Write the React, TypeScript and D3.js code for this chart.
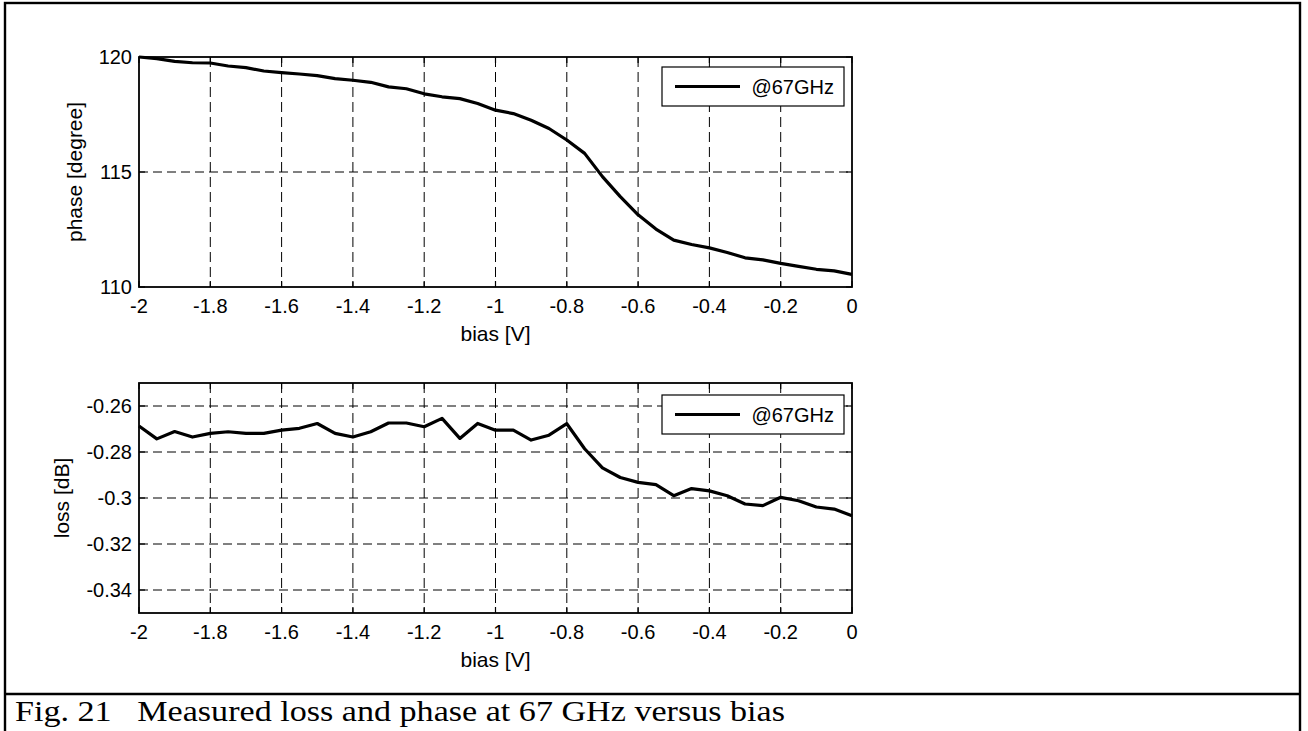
import React from "react";
import * as d3 from "d3";

// Bias sweep points [V]
const biasV = [
  -2.0, -1.95, -1.9, -1.85, -1.8, -1.75, -1.7, -1.65, -1.6, -1.55, -1.5,
  -1.45, -1.4, -1.35, -1.3, -1.25, -1.2, -1.15, -1.1, -1.05, -1.0,
  -0.95, -0.9, -0.85, -0.8, -0.75, -0.7, -0.65, -0.6, -0.55, -0.5,
  -0.45, -0.4, -0.35, -0.3, -0.25, -0.2, -0.15, -0.1, -0.05, 0.0,
];

// Measured transmission phase at 67 GHz [degree]
const phaseDeg = [
  120.0, 119.93, 119.81, 119.75, 119.74, 119.61, 119.54, 119.39, 119.32, 119.26, 119.19,
  119.06, 118.99, 118.9, 118.7, 118.62, 118.4, 118.27, 118.19, 117.98, 117.69,
  117.54, 117.25, 116.89, 116.39, 115.81, 114.8, 113.93, 113.14, 112.52, 112.04,
  111.85, 111.7, 111.5, 111.27, 111.18, 111.03, 110.9, 110.77, 110.7, 110.55,
];

// Measured insertion loss at 67 GHz [dB]
const lossDb = [
  -0.2687, -0.2743, -0.2711, -0.2735, -0.2719, -0.2712, -0.2719, -0.2719, -0.2705, -0.2697, -0.2676,
  -0.2719, -0.2735, -0.2712, -0.2674, -0.2674, -0.269, -0.2654, -0.2741, -0.2676, -0.2705,
  -0.2705, -0.2748, -0.2727, -0.2677, -0.2786, -0.2869, -0.2911, -0.2932, -0.2942, -0.299,
  -0.2959, -0.2969, -0.299, -0.3026, -0.3033, -0.2997, -0.3012, -0.3039, -0.3048, -0.3077,
];

const xTicks = [-2, -1.8, -1.6, -1.4, -1.2, -1, -0.8, -0.6, -0.4, -0.2, 0];
const phaseTicks = [110, 115, 120];
const lossTicks = [-0.34, -0.32, -0.3, -0.28, -0.26];

const legendLabel = "@67GHz";
const xLabel = "bias [V]";
const caption = "Fig. 21   Measured loss and phase at 67 GHz versus bias";

const W = 1308;
const H = 731;
const SANS = "'Liberation Sans', Arial, Helvetica, sans-serif";
const SERIF = "'Liberation Serif', 'Times New Roman', serif";
const FS = 20;
const LABEL_FS = 21;

type PanelProps = {
  top: number;
  bottom: number;
  yDomain: [number, number];
  yTicks: number[];
  values: number[];
  yLabel: string;
  yLabelX: number;
  legendTop: number;
};

const LEFT = 139;
const RIGHT = 852;

function fmt(v: number) {
  return String(+v.toFixed(4));
}

function Panel({ top, bottom, yDomain, yTicks, values, yLabel, yLabelX, legendTop }: PanelProps) {
  const x = d3.scaleLinear().domain([-2, 0]).range([LEFT, RIGHT]);
  const y = d3.scaleLinear().domain(yDomain).range([bottom, top]);
  const line = d3
    .line<number>()
    .x((_, i) => x(biasV[i]))
    .y((d) => y(d));
  const tick = 6;
  const legendLeft = 662;
  const legendRight = 844;
  const legendH = 39;
  const midY = (top + bottom) / 2;
  return (
    <g>
      {/* dashed grid */}
      {xTicks.slice(1, -1).map((t) => (
        <line
          key={"gx" + t}
          x1={x(t)}
          x2={x(t)}
          y1={top}
          y2={bottom}
          stroke="#000"
          strokeWidth={1}
          strokeDasharray="10,5"
        />
      ))}
      {yTicks
        .filter((t) => y(t) > top + 1 && y(t) < bottom - 1)
        .map((t) => (
          <line
            key={"gy" + t}
            x1={LEFT}
            x2={RIGHT}
            y1={y(t)}
            y2={y(t)}
            stroke="#000"
            strokeWidth={1}
            strokeDasharray="9,5"
          />
        ))}
      {/* inward ticks on all sides */}
      {xTicks.map((t) => (
        <g key={"tx" + t}>
          <line x1={x(t)} x2={x(t)} y1={bottom} y2={bottom - tick} stroke="#000" strokeWidth={1.2} />
          <line x1={x(t)} x2={x(t)} y1={top} y2={top + tick} stroke="#000" strokeWidth={1.2} />
        </g>
      ))}
      {yTicks.map((t) => (
        <g key={"ty" + t}>
          <line x1={LEFT} x2={LEFT + tick} y1={y(t)} y2={y(t)} stroke="#000" strokeWidth={1.2} />
          <line x1={RIGHT} x2={RIGHT - tick} y1={y(t)} y2={y(t)} stroke="#000" strokeWidth={1.2} />
        </g>
      ))}
      {/* data */}
      <path
        d={line(values) || ""}
        fill="none"
        stroke="#000"
        strokeWidth={3.2}
        strokeLinejoin="round"
      />
      {/* axes box */}
      <rect x={LEFT} y={top} width={RIGHT - LEFT} height={bottom - top} fill="none" stroke="#000" strokeWidth={1.8} />
      {/* tick labels */}
      {xTicks.map((t) => (
        <text
          key={"lx" + t}
          x={x(t)}
          y={bottom + 26}
          textAnchor="middle"
          fontFamily={SANS}
          fontSize={FS}
        >
          {fmt(t)}
        </text>
      ))}
      {yTicks.map((t) => (
        <text
          key={"ly" + t}
          x={LEFT - 7}
          y={y(t)}
          dy="0.35em"
          textAnchor="end"
          fontFamily={SANS}
          fontSize={FS}
        >
          {fmt(t)}
        </text>
      ))}
      <text x={(LEFT + RIGHT) / 2} y={bottom + 54} textAnchor="middle" fontFamily={SANS} fontSize={LABEL_FS}>
        {xLabel}
      </text>
      <text
        transform={`translate(${yLabelX},${midY}) rotate(-90)`}
        textAnchor="middle"
        fontFamily={SANS}
        fontSize={LABEL_FS}
      >
        {yLabel}
      </text>
      {/* legend */}
      <rect
        x={legendLeft}
        y={legendTop}
        width={legendRight - legendLeft}
        height={legendH}
        fill="#fff"
        stroke="#000"
        strokeWidth={1.2}
      />
      <line
        x1={legendLeft + 13}
        x2={legendLeft + 78}
        y1={legendTop + legendH / 2}
        y2={legendTop + legendH / 2}
        stroke="#000"
        strokeWidth={3.2}
      />
      <text
        x={legendRight - 10}
        y={legendTop + legendH / 2}
        dy="0.36em"
        textAnchor="end"
        fontFamily={SANS}
        fontSize={FS}
      >
        {legendLabel}
      </text>
    </g>
  );
}

export default function App() {
  return (
    <div style={{ position: "absolute", left: 0, top: 0 }}>
      <svg width={W} height={H} viewBox={`0 0 ${W} ${H}`} style={{ display: "block", background: "#fff" }}>
        <rect x={0} y={0} width={W} height={H} fill="#fff" />
        {/* figure frame */}
        <rect x={5} y={3} width={1295} height={H + 10} fill="none" stroke="#000" strokeWidth={2.4} />
        <line x1={5} x2={1300} y1={694} y2={694} stroke="#000" strokeWidth={2.4} />
        <Panel
          top={57}
          bottom={287}
          yDomain={[110, 120]}
          yTicks={phaseTicks}
          values={phaseDeg}
          yLabel="phase [degree]"
          yLabelX={82}
          legendTop={67}
        />
        <Panel
          top={383}
          bottom={613}
          yDomain={[-0.35, -0.25]}
          yTicks={lossTicks}
          values={lossDb}
          yLabel="loss [dB]"
          yLabelX={69}
          legendTop={395}
        />
        <text
          x={15}
          y={721}
          fontFamily={SERIF}
          fontSize={29}
          textLength={770}
          lengthAdjust="spacingAndGlyphs"
          style={{ whiteSpace: "pre" }}
        >
          {caption}
        </text>
      </svg>
    </div>
  );
}
